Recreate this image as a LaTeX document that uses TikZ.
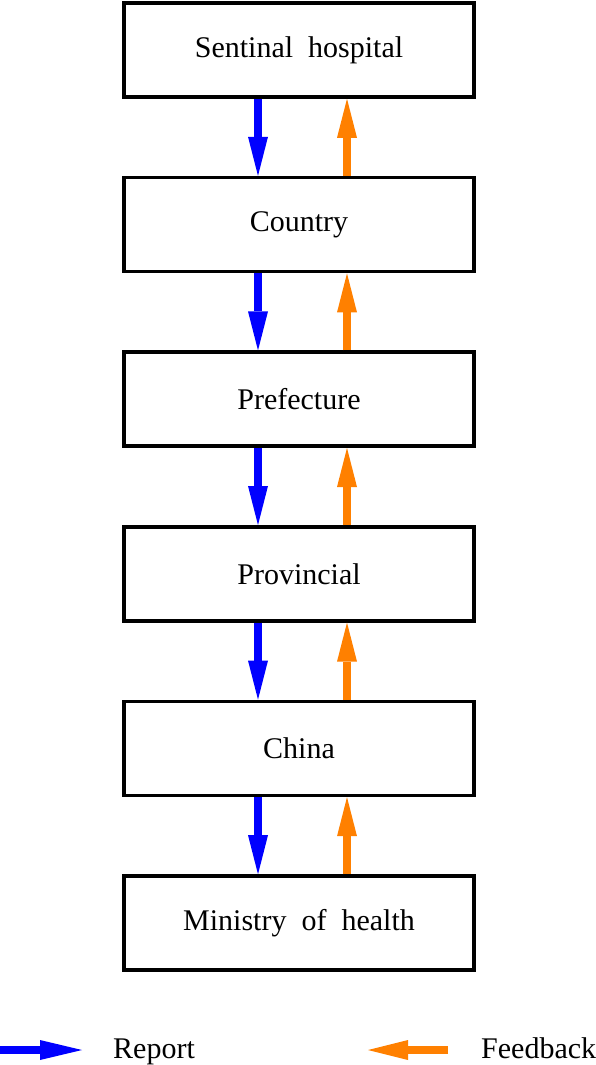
\documentclass[tikz,border=0pt]{standalone}
\usepackage{fontspec}
\setmainfont{Liberation Serif}
\usetikzlibrary{arrows.meta}
\definecolor{repblue}{RGB}{0,0,255}
\definecolor{fborange}{RGB}{255,128,0}
\tikzset{
  levelbox/.style={draw=black, line width=3.6pt, minimum width=350pt, minimum height=94pt, inner sep=0pt, font=\fontsize{30}{36}\selectfont, fill=white},
  reparrow/.style={draw=repblue, line width=8pt, -{Triangle[length=39pt,width=20pt,line width=0pt]}, repblue},
  fbarrow/.style={draw=fborange, line width=8pt, -{Triangle[length=39pt,width=20pt,line width=0pt]}, fborange},
  legtext/.style={font=\fontsize{30}{36}\selectfont, inner sep=0pt, anchor=base west}
}
\begin{document}
\begin{tikzpicture}[x=1pt,y=-1pt]
\useasboundingbox (0,0) rectangle (596,1065);
\node[levelbox] (b1) at (299,50) {Sentinal\ \ hospital};
\node[levelbox] (b2) at (299,224.6) {Country};
\node[levelbox] (b3) at (299,399.2) {Prefecture};
\node[levelbox] (b4) at (299,573.8) {Provincial};
\node[levelbox] (b5) at (299,748.4) {China};
\node[levelbox] (b6) at (299,923) {Ministry\ \ of\ \ health};
\coordinate (xr) at (258,0);
\coordinate (xf) at (347,0);
\foreach \a/\b in {b1/b2,b2/b3,b3/b4,b4/b5,b5/b6}{
  \draw[reparrow] (\a.south -| xr) -- (\b.north -| xr);
  \draw[fbarrow] (\b.north -| xf) -- (\a.south -| xf);
}
\coordinate (lr1) at (0,1050);
\coordinate (lr2) at (82,1050);
\coordinate (lf1) at (448,1050);
\coordinate (lf2) at (368,1050);
\draw[reparrow, -{Triangle[length=42pt,width=20pt,line width=0pt]}] (lr1) -- (lr2);
\draw[fbarrow, -{Triangle[length=40pt,width=20pt,line width=0pt]}] (lf1) -- (lf2);
\node[legtext] (lrep) at (113,1058) {Report};
\node[legtext] (lfb) at (481,1058) {Feedback};
\end{tikzpicture}
\end{document}
